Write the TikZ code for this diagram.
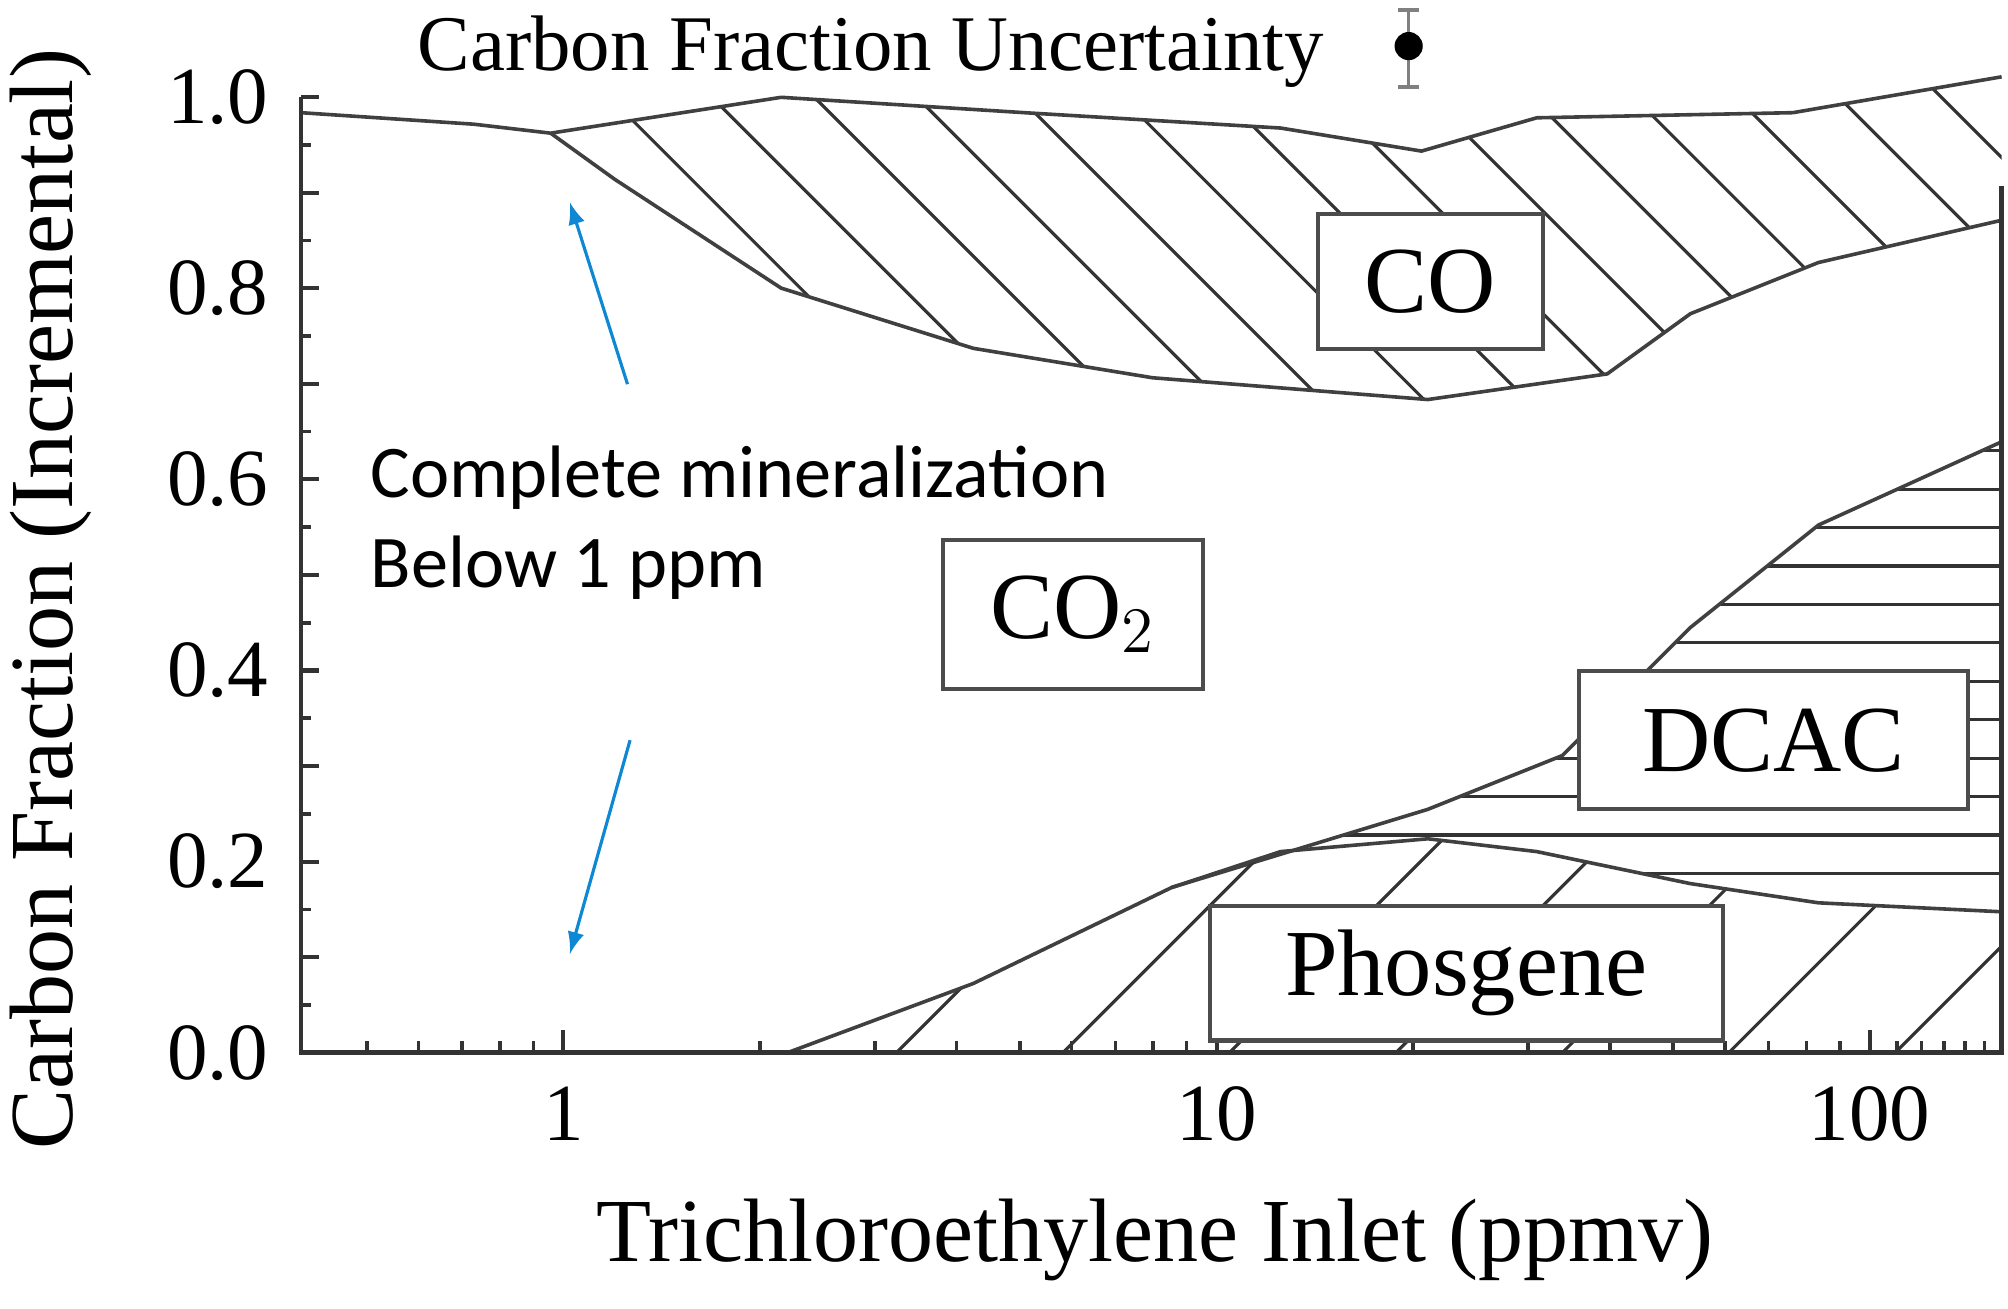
\documentclass[tikz,border=0pt]{standalone}
\usepackage{fontspec}
\setmainfont{Liberation Serif}
\newfontfamily\annfont{Carlito}
\begin{document}
\begin{tikzpicture}[x=0.01cm,y=-0.01cm,
  curve/.style={draw=black!75,line width=0.8pt},
  hatch/.style={draw=black!80,line width=0.7pt},
  lbl/.style={draw=black!70,fill=white,line width=0.9pt,inner sep=0pt,font=\fontsize{21}{24}\selectfont},
  tick/.style={font=\fontsize{18}{20}\selectfont},
  note/.style={-latex,draw=cyan!70!blue,line width=0.7pt}]
\useasboundingbox (0,0) rectangle (1568,1022);
% CO region
\begin{scope}
\clip (430,104)--(610,76)--(800,88)--(1000,100)--(1110,118)--(1200,92)--(1400,88)--(1563,60)--(1563,172)--(1420,205)--(1320,245)--(1255,292)--(1115,312)--(900,295)--(760,272)--(610,225)--(480,140)--cycle;
\foreach \s in {400,480,...,1700} \draw[hatch] (\s,0)--(\s+400,400);
\end{scope}
\draw[curve] (235,88)--(370,97)--(430,104)--(610,76)--(800,88)--(1000,100)--(1110,118)--(1200,92)--(1400,88)--(1563,60);
\draw[curve] (430,104)--(480,140)--(610,225)--(760,272)--(900,295)--(1115,312)--(1255,292)--(1320,245)--(1420,205)--(1563,172);
% DCAC region
\begin{scope}
\clip (915,693)--(1115,632)--(1220,590)--(1320,490)--(1420,410)--(1563,345)--(1563,712)--(1420,705)--(1320,690)--(1200,665)--(1115,655)--(1000,665)--cycle;
\foreach \yy in {352,382,...,712} \draw[hatch] (900,\yy)--(1563,\yy);
\end{scope}
\draw[curve] (915,693)--(1115,632)--(1220,590)--(1320,490)--(1420,410)--(1563,345);
% Phosgene region
\begin{scope}
\clip (615,822)--(760,768)--(915,693)--(1000,665)--(1115,655)--(1200,665)--(1320,690)--(1420,705)--(1563,712)--(1563,822)--cycle;
\foreach \s in {700,830,...,1600} \draw[hatch] (\s,822)--(\s+300,522);
\end{scope}
\draw[curve] (615,822)--(760,768)--(915,693)--(1000,665)--(1115,655)--(1200,665)--(1320,690)--(1420,705)--(1563,712);
% axes
\draw[black!80,line width=1pt] (235,76)--(235,822)--(1563,822)--(1563,145);
\foreach \f in {0,1,...,10} \draw[black!80,line width=0.9pt] (235,822-74.6*\f)--++(14,0);
\foreach \f in {0,1,...,9} \draw[black!80,line width=0.8pt] (235,822-74.6*\f-37.3)--++(8,0);
\foreach \f/\t in {0/0.0,2/0.2,4/0.4,6/0.6,8/0.8,10/1.0}
  \node[tick,anchor=east] (y\f) at (222,822-74.6*\f) {\t};
\foreach \d in {0,1,2} \draw[black!80,line width=0.9pt] (440+510*\d,822)--++(0,-18);
\foreach \m in {0.5,0.6,0.7,0.8,0.9,2,3,4,5,6,7,8,9,20,30,40,50,60,70,80,90,110,120,130,140,150}
  {\pgfmathsetmacro\xx{440+510*log10(\m)}\draw[black!80,line width=0.8pt] (\xx,822)--++(0,-9);}
\node[tick] (x1) at (440,870) {1};
\node[tick] (x10) at (950,870) {10};
\node[tick] (x100) at (1460,870) {100};
\node[font=\fontsize{20}{24}\selectfont] (xt) at (902,968) {Trichloroethylene Inlet (ppmv)};
\node[font=\fontsize{20}{24}\selectfont,rotate=90] (yt) at (40,468) {Carbon Fraction (Incremental)};
% boxes
\node[lbl,minimum width=1.75cm,minimum height=1.05cm] (co) at (1117,220) {CO};
\node[lbl,minimum width=2.03cm,minimum height=1.16cm] (co2) at (838,480) {CO$_2$};
\node[lbl,minimum width=3.04cm,minimum height=1.08cm] (dcac) at (1385,578) {DCAC};
\node[lbl,minimum width=4.0cm,minimum height=1.05cm] (ph) at (1145,760) {Phosgene};
% annotation
\node[font=\annfont\fontsize{16.5}{20}\selectfont,align=left,anchor=north west] (note) at (277,336) {Complete mineralization\\Below 1 ppm};
\coordinate (a1s) at (490,300); \coordinate (a1e) at (445,158);
\coordinate (a2s) at (492,578); \coordinate (a2e) at (445,745);
\draw[note] (a1s)--(a1e);
\draw[note] (a2s)--(a2e);
% legend
\node[font=\fontsize{17.5}{20}\selectfont] (leg) at (680,40) {Carbon Fraction Uncertainty};
\draw[black!50,line width=0.8pt] (1100,8)--(1100,68) (1092,8)--(1108,8) (1092,68)--(1108,68);
\fill (1100,36) circle (11);
\end{tikzpicture}
\end{document}
